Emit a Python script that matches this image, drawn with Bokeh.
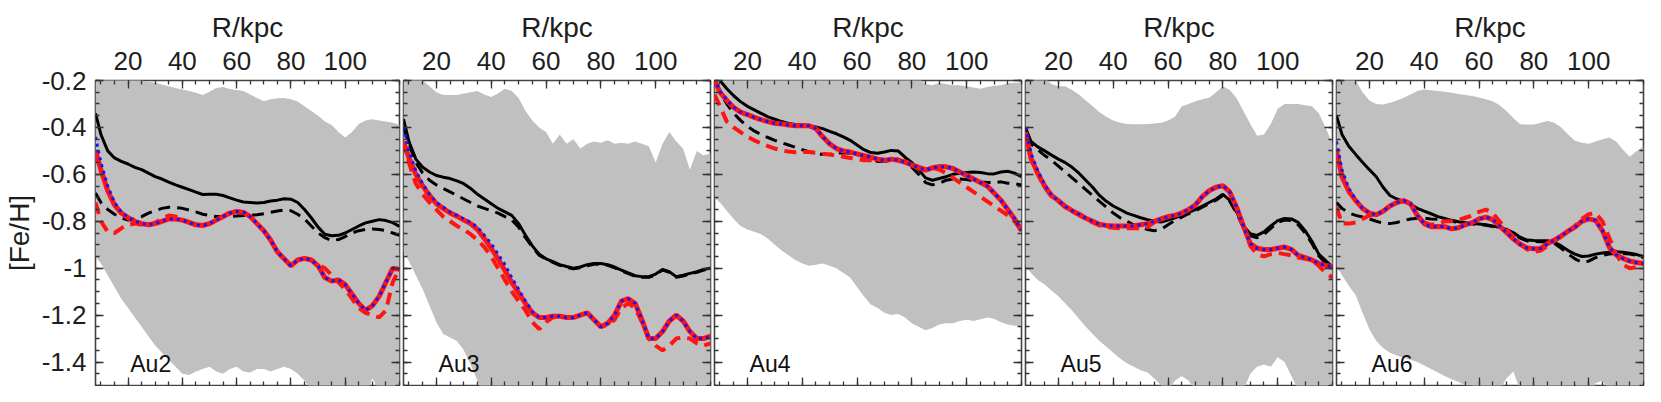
import numpy as np
from bokeh.plotting import figure
from bokeh.models import (LinearAxis, FixedTicker, CustomJSTickFormatter, Range1d, Label,
                          CustomLabelingPolicy)
from bokeh.layouts import row
from bokeh.embed import file_html
from bokeh.resources import INLINE

# ---------------- data ----------------
R = [8, 10, 12.5, 15, 17.5, 20, 22.5, 25, 27.5, 30,
     32.5, 35, 37.5, 40, 42.5, 45, 47.5, 50, 52.5, 55,
     57.5, 60, 62.5, 65, 67.5, 70, 72.5, 75, 77.5, 80,
     82.5, 85, 87.5, 90, 92.5, 95, 97.5, 100, 102.5, 105,
     107.5, 110, 112.5, 115, 117.5, 120]

halo_names = ["Au2", "Au3", "Au4", "Au5", "Au6"]
x_tick_labels = [20, 40, 60, 80, 100]
y_tick_labels = [-1.4, -1.2, -1.0, -0.8, -0.6, -0.4, -0.2]

# ---- Au2 ----
au2_upper = [-0.15, -0.15, -0.15, -0.15, -0.17, -0.18, -0.19, -0.20, -0.205, -0.21,
             -0.217, -0.225, -0.232, -0.238, -0.245, -0.252, -0.262, -0.248, -0.232, -0.228,
             -0.236, -0.24, -0.245, -0.26, -0.275, -0.288, -0.28, -0.276, -0.275, -0.28,
             -0.29, -0.31, -0.33, -0.35, -0.375, -0.39, -0.42, -0.443, -0.42, -0.385,
             -0.37, -0.365, -0.37, -0.375, -0.38, -0.39]
au2_lower = [-0.95, -0.98, -1.03, -1.08, -1.13, -1.17, -1.21, -1.25, -1.29, -1.33,
             -1.36, -1.39, -1.42, -1.45, -1.455, -1.44, -1.43, -1.42, -1.44, -1.45,
             -1.43, -1.42, -1.44, -1.445, -1.43, -1.43, -1.44, -1.43, -1.42, -1.43,
             -1.45, -1.48, -1.52, -1.56, -1.58, -1.58, -1.58, -1.58, -1.58, -1.58,
             -1.55, -1.47, -1.52, -1.58, -1.6, -1.6]
au2_k_solid = [-0.34, -0.43, -0.50, -0.53, -0.545, -0.556, -0.57, -0.58, -0.595, -0.61,
               -0.62, -0.633, -0.645, -0.655, -0.665, -0.676, -0.686, -0.685, -0.685, -0.69,
               -0.70, -0.71, -0.718, -0.72, -0.722, -0.72, -0.714, -0.71, -0.704, -0.706,
               -0.72, -0.75, -0.785, -0.825, -0.855, -0.862, -0.86, -0.85, -0.835, -0.82,
               -0.807, -0.80, -0.793, -0.797, -0.806, -0.822]
au2_k_dash = [-0.68, -0.72, -0.75, -0.77, -0.785, -0.795, -0.79, -0.78, -0.765, -0.755,
              -0.745, -0.74, -0.742, -0.745, -0.752, -0.76, -0.77, -0.775, -0.78, -0.78,
              -0.78, -0.778, -0.775, -0.775, -0.772, -0.768, -0.762, -0.756, -0.752, -0.755,
              -0.77, -0.79, -0.82, -0.85, -0.87, -0.882, -0.878, -0.865, -0.85, -0.84,
              -0.835, -0.833, -0.835, -0.84, -0.85, -0.86]
au2_r_solid = [-0.50, -0.58, -0.67, -0.73, -0.765, -0.785, -0.80, -0.81, -0.815, -0.81,
               -0.80, -0.79, -0.79, -0.795, -0.805, -0.815, -0.818, -0.81, -0.795, -0.78,
               -0.765, -0.758, -0.762, -0.78, -0.81, -0.84, -0.88, -0.93, -0.96, -0.99,
               -0.965, -0.958, -0.965, -0.99, -1.04, -1.055, -1.05, -1.07, -1.11, -1.15,
               -1.18, -1.16, -1.12, -1.06, -1.00, -1.005]
au2_r_dash = [-0.72, -0.80, -0.845, -0.85, -0.83, -0.815, -0.81, -0.815, -0.82, -0.805,
              -0.79, -0.775, -0.78, -0.795, -0.805, -0.815, -0.818, -0.81, -0.795, -0.78,
              -0.765, -0.758, -0.762, -0.78, -0.81, -0.84, -0.88, -0.93, -0.96, -0.99,
              -0.965, -0.958, -0.965, -0.985, -1.0, -1.03, -1.06, -1.09, -1.13, -1.17,
              -1.19, -1.20, -1.21, -1.18, -1.06, -1.0]
au2_b_dot = [-0.44, -0.55, -0.65, -0.72, -0.76, -0.783, -0.80, -0.81, -0.815, -0.81,
             -0.80, -0.79, -0.79, -0.795, -0.805, -0.815, -0.818, -0.81, -0.795, -0.78,
             -0.765, -0.758, -0.762, -0.78, -0.81, -0.84, -0.88, -0.93, -0.96, -0.99,
             -0.965, -0.958, -0.965, -0.99, -1.04, -1.055, -1.05, -1.07, -1.11, -1.15,
             -1.18, -1.16, -1.12, -1.06, -1.00, -1.005]

# ---- Au3 ----
au3_upper = [-0.15, -0.15, -0.18, -0.20, -0.225, -0.25, -0.262, -0.262, -0.262, -0.255,
             -0.25, -0.245, -0.26, -0.27, -0.255, -0.235, -0.245, -0.275, -0.33, -0.37,
             -0.40, -0.42, -0.47, -0.43, -0.47, -0.45, -0.49, -0.47, -0.46, -0.465,
             -0.455, -0.47, -0.465, -0.47, -0.46, -0.47, -0.48, -0.55, -0.47, -0.42,
             -0.46, -0.49, -0.58, -0.50, -0.52, -0.51]
au3_lower = [-0.93, -0.97, -1.03, -1.09, -1.16, -1.23, -1.28, -1.295, -1.31, -1.35,
             -1.41, -1.48, -1.55, -1.6, -1.6, -1.6, -1.6, -1.6, -1.6, -1.6,
             -1.6, -1.6, -1.6, -1.6, -1.6, -1.6, -1.6, -1.6, -1.6, -1.6,
             -1.6, -1.6, -1.6, -1.6, -1.6, -1.6, -1.6, -1.6, -1.6, -1.6,
             -1.6, -1.6, -1.6, -1.6, -1.6, -1.6]
au3_k_solid = [-0.365, -0.46, -0.535, -0.57, -0.59, -0.605, -0.612, -0.618, -0.628, -0.64,
               -0.66, -0.685, -0.705, -0.725, -0.745, -0.76, -0.775, -0.81, -0.86, -0.905,
               -0.94, -0.96, -0.972, -0.985, -0.993, -1.0, -0.995, -0.985, -0.98, -0.98,
               -0.985, -0.995, -1.008, -1.02, -1.032, -1.036, -1.036, -1.025, -1.005, -1.015,
               -1.036, -1.03, -1.022, -1.015, -1.005, -1.0]
au3_k_dash = [-0.40, -0.47, -0.55, -0.595, -0.625, -0.645, -0.66, -0.675, -0.69, -0.705,
              -0.72, -0.735, -0.745, -0.755, -0.765, -0.78, -0.795, -0.825, -0.87, -0.91,
              -0.945, -0.962, -0.975, -0.988, -0.996, -1.003, -0.998, -0.99, -0.983, -0.983,
              -0.988, -0.998, -1.011, -1.023, -1.035, -1.039, -1.039, -1.028, -1.008, -1.018,
              -1.039, -1.033, -1.025, -1.018, -1.008, -1.003]
au3_r_solid = [-0.46, -0.53, -0.60, -0.65, -0.69, -0.725, -0.745, -0.765, -0.778, -0.795,
               -0.81, -0.835, -0.873, -0.915, -0.96, -1.01, -1.06, -1.105, -1.15, -1.19,
               -1.21, -1.21, -1.205, -1.205, -1.21, -1.21, -1.20, -1.19, -1.22, -1.25,
               -1.235, -1.20, -1.14, -1.13, -1.15, -1.22, -1.30, -1.30, -1.27, -1.225,
               -1.20, -1.225, -1.27, -1.30, -1.30, -1.29]
au3_r_dash = [-0.46, -0.55, -0.64, -0.685, -0.72, -0.75, -0.78, -0.80, -0.82, -0.835,
              -0.855, -0.88, -0.91, -0.95, -1.0, -1.05, -1.1, -1.14, -1.18, -1.23,
              -1.26, -1.23, -1.21, -1.205, -1.21, -1.21, -1.2, -1.19, -1.22, -1.25,
              -1.24, -1.22, -1.17, -1.15, -1.17, -1.23, -1.3, -1.33, -1.35, -1.33,
              -1.30, -1.295, -1.30, -1.32, -1.33, -1.32]
au3_b_dot = [-0.40, -0.50, -0.585, -0.64, -0.685, -0.72, -0.74, -0.76, -0.775, -0.79,
             -0.805, -0.825, -0.86, -0.895, -0.94, -0.985, -1.04, -1.09, -1.14, -1.185,
             -1.21, -1.21, -1.205, -1.205, -1.21, -1.21, -1.20, -1.19, -1.22, -1.25,
             -1.235, -1.20, -1.14, -1.13, -1.15, -1.22, -1.30, -1.30, -1.27, -1.225,
             -1.20, -1.225, -1.27, -1.30, -1.30, -1.29]

# ---- Au4 ----
au4_upper = [-0.15, -0.15, -0.15, -0.15, -0.15, -0.15, -0.15, -0.15, -0.15, -0.15,
             -0.15, -0.15, -0.15, -0.15, -0.15, -0.15, -0.15, -0.15, -0.15, -0.15,
             -0.15, -0.15, -0.15, -0.15, -0.15, -0.15, -0.15, -0.15, -0.16, -0.18,
             -0.19, -0.215, -0.22, -0.21, -0.215, -0.22, -0.22, -0.225, -0.23, -0.235,
             -0.228, -0.222, -0.22, -0.212, -0.21, -0.21]
au4_lower = [-0.70, -0.72, -0.755, -0.79, -0.82, -0.835, -0.845, -0.855, -0.875, -0.90,
             -0.925, -0.945, -0.965, -0.98, -0.99, -0.985, -0.98, -0.99, -1.0, -1.02,
             -1.04, -1.08, -1.12, -1.155, -1.17, -1.19, -1.2, -1.195, -1.21, -1.235,
             -1.25, -1.265, -1.255, -1.24, -1.235, -1.235, -1.225, -1.22, -1.225, -1.218,
             -1.21, -1.215, -1.23, -1.24, -1.245, -1.245]
au4_k_solid = [-0.17, -0.20, -0.235, -0.265, -0.29, -0.31, -0.325, -0.34, -0.355, -0.365,
               -0.375, -0.383, -0.387, -0.39, -0.393, -0.398, -0.405, -0.417, -0.427, -0.44,
               -0.455, -0.475, -0.495, -0.507, -0.51, -0.505, -0.498, -0.50, -0.527, -0.55,
               -0.58, -0.615, -0.625, -0.618, -0.61, -0.60, -0.595, -0.592, -0.59, -0.592,
               -0.597, -0.598, -0.59, -0.587, -0.595, -0.61]
au4_k_dash = [-0.21, -0.25, -0.30, -0.34, -0.37, -0.395, -0.415, -0.43, -0.443, -0.455,
              -0.465, -0.475, -0.485, -0.495, -0.503, -0.51, -0.515, -0.515, -0.51, -0.508,
              -0.51, -0.515, -0.525, -0.535, -0.545, -0.545, -0.54, -0.535, -0.55, -0.57,
              -0.60, -0.635, -0.645, -0.638, -0.625, -0.62, -0.62, -0.622, -0.628, -0.633,
              -0.635, -0.635, -0.632, -0.638, -0.64, -0.645]
au4_r_solid = [-0.20, -0.25, -0.285, -0.315, -0.335, -0.345, -0.357, -0.367, -0.375, -0.382,
               -0.385, -0.39, -0.393, -0.392, -0.393, -0.405, -0.44, -0.47, -0.49, -0.50,
               -0.505, -0.513, -0.52, -0.527, -0.535, -0.541, -0.535, -0.54, -0.548, -0.56,
               -0.572, -0.582, -0.572, -0.567, -0.568, -0.575, -0.59, -0.605, -0.62, -0.635,
               -0.65, -0.68, -0.71, -0.75, -0.79, -0.84]
au4_r_dash = [-0.26, -0.31, -0.375, -0.40, -0.42, -0.44, -0.455, -0.468, -0.48, -0.49,
              -0.497, -0.503, -0.506, -0.505, -0.505, -0.508, -0.512, -0.515, -0.52, -0.525,
              -0.53, -0.535, -0.54, -0.54, -0.535, -0.538, -0.542, -0.54, -0.545, -0.555,
              -0.568, -0.578, -0.573, -0.58, -0.595, -0.615, -0.635, -0.655, -0.675, -0.695,
              -0.715, -0.735, -0.755, -0.775, -0.80, -0.84]
au4_b_dot = [-0.19, -0.245, -0.283, -0.314, -0.335, -0.345, -0.357, -0.367, -0.375, -0.382,
             -0.385, -0.39, -0.393, -0.392, -0.393, -0.405, -0.44, -0.47, -0.49, -0.50,
             -0.505, -0.513, -0.52, -0.527, -0.535, -0.541, -0.535, -0.54, -0.548, -0.56,
             -0.572, -0.582, -0.572, -0.567, -0.568, -0.575, -0.59, -0.605, -0.62, -0.635,
             -0.65, -0.68, -0.71, -0.75, -0.79, -0.84]

# ---- Au5 ----
au5_upper = [-0.15, -0.15, -0.17, -0.19, -0.215, -0.225, -0.225, -0.24, -0.26, -0.285,
             -0.31, -0.335, -0.355, -0.37, -0.38, -0.385, -0.386, -0.386, -0.385, -0.383,
             -0.38, -0.37, -0.355, -0.31, -0.30, -0.288, -0.28, -0.273, -0.25, -0.225,
             -0.24, -0.275, -0.33, -0.385, -0.435, -0.43, -0.385, -0.32, -0.30, -0.30,
             -0.30, -0.305, -0.31, -0.34, -0.40, -0.47]
au5_lower = [-0.99, -1.02, -1.05, -1.07, -1.095, -1.12, -1.15, -1.18, -1.215, -1.25,
             -1.28, -1.31, -1.335, -1.36, -1.385, -1.405, -1.42, -1.435, -1.445, -1.47,
             -1.50, -1.52, -1.48, -1.46, -1.48, -1.52, -1.55, -1.55, -1.55, -1.55,
             -1.55, -1.55, -1.52, -1.45, -1.42, -1.41, -1.42, -1.38, -1.40, -1.46,
             -1.52, -1.55, -1.55, -1.55, -1.55, -1.55]
au5_k_solid = [-0.40, -0.46, -0.483, -0.50, -0.518, -0.535, -0.55, -0.57, -0.595, -0.625,
               -0.655, -0.69, -0.715, -0.735, -0.75, -0.765, -0.775, -0.785, -0.793, -0.80,
               -0.803, -0.795, -0.785, -0.775, -0.762, -0.75, -0.735, -0.72, -0.705, -0.685,
               -0.71, -0.76, -0.82, -0.853, -0.86, -0.845, -0.82, -0.797, -0.788, -0.79,
               -0.805, -0.84, -0.885, -0.94, -0.968, -0.995]
au5_k_dash = [-0.44, -0.47, -0.495, -0.52, -0.54, -0.565, -0.59, -0.615, -0.64, -0.665,
              -0.69, -0.715, -0.74, -0.765, -0.785, -0.80, -0.815, -0.825, -0.835, -0.84,
              -0.835, -0.815, -0.797, -0.782, -0.768, -0.755, -0.74, -0.725, -0.71, -0.69,
              -0.715, -0.765, -0.828, -0.862, -0.87, -0.855, -0.83, -0.805, -0.795, -0.797,
              -0.815, -0.85, -0.895, -0.948, -0.978, -1.0]
au5_r_solid = [-0.42, -0.53, -0.595, -0.65, -0.69, -0.712, -0.737, -0.755, -0.77, -0.787,
               -0.80, -0.813, -0.818, -0.82, -0.82, -0.82, -0.82, -0.815, -0.81, -0.80,
               -0.79, -0.78, -0.775, -0.765, -0.75, -0.73, -0.695, -0.67, -0.655, -0.648,
               -0.675, -0.74, -0.82, -0.895, -0.915, -0.92, -0.92, -0.915, -0.91, -0.92,
               -0.945, -0.955, -0.965, -0.98, -0.988, -0.993]
au5_r_dash = [-0.43, -0.535, -0.60, -0.655, -0.695, -0.715, -0.74, -0.758, -0.773, -0.79,
              -0.805, -0.818, -0.825, -0.828, -0.83, -0.83, -0.83, -0.83, -0.825, -0.805,
              -0.79, -0.78, -0.775, -0.765, -0.75, -0.73, -0.695, -0.67, -0.655, -0.648,
              -0.675, -0.74, -0.82, -0.905, -0.94, -0.95, -0.94, -0.935, -0.94, -0.945,
              -0.955, -0.96, -0.965, -0.99, -1.02, -1.04]
au5_b_dot = [-0.40, -0.51, -0.585, -0.645, -0.69, -0.712, -0.737, -0.755, -0.77, -0.787,
             -0.80, -0.813, -0.818, -0.82, -0.82, -0.82, -0.82, -0.815, -0.81, -0.80,
             -0.79, -0.78, -0.775, -0.765, -0.75, -0.73, -0.695, -0.67, -0.655, -0.648,
             -0.675, -0.74, -0.82, -0.895, -0.915, -0.92, -0.92, -0.915, -0.91, -0.92,
             -0.945, -0.955, -0.965, -0.98, -0.988, -0.993]

# ---- Au6 ----
au6_upper = [-0.15, -0.15, -0.17, -0.20, -0.25, -0.285, -0.30, -0.302, -0.295, -0.285,
             -0.273, -0.26, -0.245, -0.238, -0.242, -0.245, -0.248, -0.252, -0.258, -0.262,
             -0.266, -0.272, -0.28, -0.288, -0.305, -0.33, -0.36, -0.386, -0.388, -0.388,
             -0.38, -0.373, -0.38, -0.40, -0.43, -0.457, -0.465, -0.47, -0.46, -0.45,
             -0.443, -0.46, -0.495, -0.525, -0.5, -0.48]
au6_lower = [-0.99, -1.03, -1.075, -1.115, -1.19, -1.26, -1.31, -1.34, -1.36, -1.372,
             -1.382, -1.39, -1.40, -1.415, -1.43, -1.445, -1.46, -1.473, -1.485, -1.50,
             -1.50, -1.52, -1.55, -1.55, -1.52, -1.47, -1.44, -1.52, -1.55, -1.55,
             -1.55, -1.55, -1.55, -1.55, -1.55, -1.49, -1.55, -1.55, -1.49, -1.48,
             -1.52, -1.55, -1.55, -1.55, -1.55, -1.55]
au6_k_solid = [-0.35, -0.43, -0.48, -0.515, -0.548, -0.58, -0.61, -0.655, -0.69, -0.705,
               -0.715, -0.728, -0.745, -0.757, -0.768, -0.78, -0.788, -0.796, -0.802, -0.806,
               -0.81, -0.812, -0.815, -0.82, -0.826, -0.835, -0.848, -0.868, -0.88, -0.882,
               -0.883, -0.883, -0.89, -0.905, -0.925, -0.94, -0.95, -0.948, -0.94, -0.935,
               -0.932, -0.93, -0.932, -0.936, -0.942, -0.95]
au6_k_dash = [-0.72, -0.745, -0.765, -0.775, -0.782, -0.79, -0.80, -0.808, -0.81, -0.805,
              -0.797, -0.79, -0.787, -0.787, -0.79, -0.792, -0.795, -0.80, -0.805, -0.808,
              -0.812, -0.814, -0.817, -0.822, -0.829, -0.838, -0.852, -0.872, -0.884, -0.886,
              -0.887, -0.888, -0.895, -0.915, -0.94, -0.96, -0.975, -0.97, -0.955, -0.945,
              -0.94, -0.937, -0.937, -0.94, -0.946, -0.955]
au6_r_solid = [-0.50, -0.61, -0.672, -0.712, -0.745, -0.765, -0.772, -0.757, -0.735, -0.72,
               -0.712, -0.725, -0.775, -0.81, -0.823, -0.822, -0.823, -0.832, -0.828, -0.815,
               -0.806, -0.79, -0.782, -0.793, -0.82, -0.848, -0.875, -0.898, -0.914, -0.917,
               -0.916, -0.895, -0.88, -0.862, -0.842, -0.825, -0.80, -0.79, -0.796, -0.84,
               -0.91, -0.943, -0.958, -0.97, -0.976, -0.98]
au6_r_dash = [-0.74, -0.81, -0.81, -0.805, -0.79, -0.775, -0.772, -0.757, -0.735, -0.72,
              -0.712, -0.725, -0.775, -0.805, -0.815, -0.81, -0.80, -0.80, -0.795, -0.785,
              -0.775, -0.76, -0.75, -0.765, -0.80, -0.835, -0.865, -0.895, -0.92, -0.93,
              -0.925, -0.905, -0.885, -0.865, -0.842, -0.82, -0.79, -0.77, -0.765, -0.80,
              -0.87, -0.94, -0.985, -1.0, -0.995, -0.99]
au6_b_dot = [-0.46, -0.58, -0.66, -0.707, -0.745, -0.765, -0.772, -0.757, -0.735, -0.72,
             -0.712, -0.725, -0.775, -0.81, -0.823, -0.822, -0.823, -0.832, -0.828, -0.815,
             -0.806, -0.79, -0.782, -0.793, -0.82, -0.848, -0.875, -0.898, -0.914, -0.917,
             -0.916, -0.895, -0.88, -0.862, -0.842, -0.825, -0.80, -0.79, -0.796, -0.84,
             -0.91, -0.943, -0.958, -0.97, -0.976, -0.98]

panels = [
    (au2_upper, au2_lower, au2_k_solid, au2_k_dash, au2_r_dash, au2_r_solid, au2_b_dot),
    (au3_upper, au3_lower, au3_k_solid, au3_k_dash, au3_r_dash, au3_r_solid, au3_b_dot),
    (au4_upper, au4_lower, au4_k_solid, au4_k_dash, au4_r_dash, au4_r_solid, au4_b_dot),
    (au5_upper, au5_lower, au5_k_solid, au5_k_dash, au5_r_dash, au5_r_solid, au5_b_dot),
    (au6_upper, au6_lower, au6_k_solid, au6_k_dash, au6_r_dash, au6_r_solid, au6_b_dot),
]

# ---------------- style ----------------
FONT = "Liberation Sans"
TXT = "#1e1e1e"
FRAME_W, FRAME_H = 307, 305
TOP_B, BOT_B, RIGHT_B = 80, 1, 2

x_minor = list(np.arange(10, 121, 5))
y_minor = [round(v, 3) for v in np.arange(-1.5, -0.19, 0.05)]
ytick_fmt = "return (Math.round(tick*10)/10).toString();"


def style_axis(ax, show_labels):
    ax.axis_line_color = None
    ax.major_tick_in = 8
    ax.major_tick_out = 0
    ax.minor_tick_in = 4
    ax.minor_tick_out = 0
    ax.major_tick_line_color = "#333333"
    ax.minor_tick_line_color = "#333333"
    ax.major_tick_line_width = 1.3
    ax.minor_tick_line_width = 1.3
    ax.major_label_text_font = FONT
    ax.major_label_text_color = TXT
    ax.axis_label_text_font = FONT
    ax.axis_label_text_font_style = "normal"
    ax.axis_label_text_color = TXT
    if show_labels:
        ax.major_label_text_font_size = "26px"
    else:
        # tick marks only: no tick label is drawn at all
        ax.major_label_policy = CustomLabelingPolicy(code="return [];")
        ax.major_label_text_font_size = "0px"
        ax.major_label_standoff = 0


figs = []
for i, (name, pdata) in enumerate(zip(halo_names, panels)):
    up, lo, ks, kd, rd, rs, bd = pdata
    left_b = 92 if i == 0 else 2
    p = figure(width=left_b + FRAME_W + RIGHT_B, height=TOP_B + FRAME_H + BOT_B,
               x_range=Range1d(8, 120), y_range=Range1d(-1.5, -0.2),
               x_axis_location="above", y_axis_location="left",
               output_backend="svg", toolbar_location=None,
               min_border_left=left_b, min_border_right=RIGHT_B,
               min_border_top=TOP_B, min_border_bottom=BOT_B)
    p.background_fill_color = "white"
    p.border_fill_color = "white"
    p.grid.visible = False
    p.outline_line_color = "#444444"
    p.outline_line_width = 1.6

    xt = FixedTicker(ticks=x_tick_labels, minor_ticks=x_minor)
    yt = FixedTicker(ticks=y_tick_labels, minor_ticks=y_minor)

    top = p.xaxis[0]
    top.ticker = xt
    style_axis(top, True)
    top.axis_label = "R/kpc"
    top.axis_label_text_font_size = "28px"
    top.axis_label_standoff = 6
    top.major_label_standoff = 11

    left = p.yaxis[0]
    left.ticker = yt
    if i == 0:
        style_axis(left, True)
        left.formatter = CustomJSTickFormatter(code=ytick_fmt)
        left.axis_label = "[Fe/H]"
        left.axis_label_text_font_size = "28px"
        left.axis_label_standoff = 4
        left.major_label_standoff = 9
    else:
        style_axis(left, False)

    bottom = LinearAxis(ticker=FixedTicker(ticks=x_tick_labels, minor_ticks=x_minor))
    style_axis(bottom, False)
    p.add_layout(bottom, "below")
    right = LinearAxis(ticker=FixedTicker(ticks=y_tick_labels, minor_ticks=y_minor))
    style_axis(right, False)
    p.add_layout(right, "right")

    p.varea(x=R, y1=lo, y2=up, fill_color="#c0c0c0", fill_alpha=1.0)
    p.line(R, kd, line_color="black", line_width=3, line_dash="12 7")
    p.line(R, ks, line_color="black", line_width=3)
    p.line(R, rd, line_color="#ff1414", line_width=4, line_dash="12 7")
    p.line(R, rs, line_color="#ff1414", line_width=5)
    p.line(R, bd, line_color="#1414ff", line_width=3, line_dash="3 4")

    p.add_layout(Label(x=20.8, y=-1.41, text=name, text_font=FONT,
                       text_font_size="23px", text_color="#111111",
                       text_baseline="middle", text_align="left"))
    figs.append(p)

layout = row(*figs)
open("out.html", "w").write(file_html(layout, INLINE))
